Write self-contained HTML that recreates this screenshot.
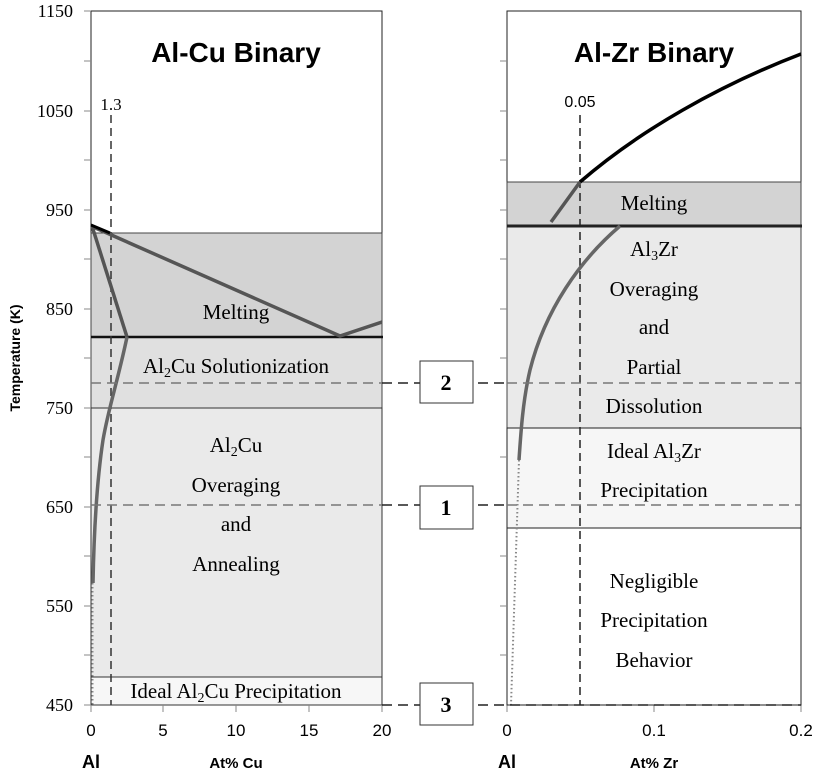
<!DOCTYPE html>
<html><head><style>
body{margin:0;background:#fff;}
svg text{font-family:"Liberation Serif",serif;}
.s{font-family:"Liberation Sans",sans-serif;}
</style></head><body>
<svg width="817" height="773" viewBox="0 0 817 773" xmlns="http://www.w3.org/2000/svg">
<rect x="91" y="11" width="291" height="694" fill="#fff" stroke="#222" stroke-width="1"/>
<rect x="91" y="233" width="291" height="104" fill="#d3d3d3" stroke="#444"/>
<rect x="91" y="337" width="291" height="71" fill="#e0e0e0" stroke="#444"/>
<rect x="91" y="408" width="291" height="269" fill="#eaeaea" stroke="#333"/>
<rect x="91" y="677" width="291" height="28" fill="#f7f7f7" stroke="#333"/>
<line x1="91" y1="337" x2="383" y2="337" stroke="#111" stroke-width="2.5"/>
<g stroke="#888" stroke-width="1">
<line x1="84" y1="11" x2="91" y2="11"/><line x1="84" y1="61" x2="91" y2="61"/><line x1="84" y1="111" x2="91" y2="111"/><line x1="84" y1="160" x2="91" y2="160"/><line x1="84" y1="210" x2="91" y2="210"/><line x1="84" y1="259" x2="91" y2="259"/><line x1="84" y1="309" x2="91" y2="309"/><line x1="84" y1="358" x2="91" y2="358"/><line x1="84" y1="408" x2="91" y2="408"/><line x1="84" y1="457" x2="91" y2="457"/><line x1="84" y1="507" x2="91" y2="507"/><line x1="84" y1="556" x2="91" y2="556"/><line x1="84" y1="606" x2="91" y2="606"/><line x1="84" y1="655" x2="91" y2="655"/><line x1="84" y1="705" x2="91" y2="705"/>
<line x1="91" y1="705" x2="91" y2="712"/><line x1="163" y1="705" x2="163" y2="712"/><line x1="236" y1="705" x2="236" y2="712"/><line x1="309" y1="705" x2="309" y2="712"/><line x1="382" y1="705" x2="382" y2="712"/>
<line x1="507" y1="705" x2="507" y2="712"/><line x1="654" y1="705" x2="654" y2="712"/><line x1="801" y1="705" x2="801" y2="712"/>
</g>
<g font-size="18" text-anchor="end">
<text x="73" y="17">1150</text><text x="73" y="117">1050</text><text x="73" y="216">950</text><text x="73" y="315">850</text><text x="73" y="414">750</text><text x="73" y="513">650</text><text x="73" y="612">550</text><text x="73" y="711">450</text>
</g>
<text class="s" x="20" y="358" font-size="14" font-weight="bold" transform="rotate(-90 20 358)" text-anchor="middle">Temperature (K)</text>
<g class="s" font-size="17" text-anchor="middle">
<text class="s" x="91" y="736">0</text><text class="s" x="163" y="736">5</text><text class="s" x="236" y="736">10</text><text class="s" x="309" y="736">15</text><text class="s" x="382" y="736">20</text>
</g>
<text class="s" x="91" y="768" font-size="18" font-weight="bold" text-anchor="middle">Al</text>
<text class="s" x="236" y="768" font-size="15" font-weight="bold" text-anchor="middle">At% Cu</text>
<text class="s" x="236" y="62" font-size="28" font-weight="bold" text-anchor="middle">Al-Cu Binary</text>
<text x="111" y="110" font-size="17" text-anchor="middle">1.3</text>
<line x1="111" y1="115" x2="111" y2="705" stroke="#333" stroke-width="1.5" stroke-dasharray="8,5"/>
<polyline points="91,226 340,336 382,322" fill="none" stroke="#555" stroke-width="3.5"/>
<polyline points="92,226 127,337" fill="none" stroke="#555" stroke-width="3.5"/>
<path d="M127,337 C118,380 108,410 103,440 C97,480 94,530 93,583" fill="none" stroke="#666" stroke-width="3.5"/>
<line x1="92.5" y1="583" x2="92.5" y2="705" stroke="#888" stroke-width="2" stroke-dasharray="1.5,2.5"/>
<polyline points="91,225 110,233" fill="none" stroke="#000" stroke-width="3"/>
<g font-size="21" text-anchor="middle">
<text x="236" y="319">Melting</text>
<text x="236" y="373">Al<tspan font-size="14" dy="4">2</tspan><tspan dy="-4">Cu Solutionization</tspan></text>
<text x="236" y="452">Al<tspan font-size="14" dy="4">2</tspan><tspan dy="-4">Cu</tspan></text>
<text x="236" y="492">Overaging</text>
<text x="236" y="531">and</text>
<text x="236" y="571">Annealing</text>
<text x="236" y="698">Ideal Al<tspan font-size="14" dy="4">2</tspan><tspan dy="-4">Cu Precipitation</tspan></text>
</g>
<rect x="507" y="11" width="294" height="694" fill="#fff" stroke="#222"/>
<rect x="507" y="182" width="294" height="44" fill="#d3d3d3" stroke="#444"/>
<rect x="507" y="226" width="294" height="202" fill="#eaeaea" stroke="#444"/>
<rect x="507" y="428" width="294" height="100" fill="#f6f6f6" stroke="#222"/>
<line x1="507" y1="226" x2="802" y2="226" stroke="#222" stroke-width="3"/>
<g stroke="#888"><line x1="500" y1="61" x2="507" y2="61"/><line x1="500" y1="111" x2="507" y2="111"/><line x1="500" y1="160" x2="507" y2="160"/><line x1="500" y1="210" x2="507" y2="210"/><line x1="500" y1="259" x2="507" y2="259"/><line x1="500" y1="309" x2="507" y2="309"/><line x1="500" y1="358" x2="507" y2="358"/><line x1="500" y1="457" x2="507" y2="457"/><line x1="500" y1="556" x2="507" y2="556"/><line x1="500" y1="606" x2="507" y2="606"/><line x1="500" y1="655" x2="507" y2="655"/></g>
<g font-size="17" text-anchor="middle">
<text class="s" x="507" y="736">0</text><text class="s" x="654" y="736">0.1</text><text class="s" x="801" y="736">0.2</text>
</g>
<text class="s" x="507" y="768" font-size="18" font-weight="bold" text-anchor="middle">Al</text>
<text class="s" x="654" y="768" font-size="15" font-weight="bold" text-anchor="middle">At% Zr</text>
<text class="s" x="654" y="62" font-size="28" font-weight="bold" text-anchor="middle">Al-Zr Binary</text>
<text class="s" x="580" y="107" font-size="16" text-anchor="middle">0.05</text>
<line x1="580" y1="115" x2="580" y2="705" stroke="#222" stroke-width="1.5" stroke-dasharray="8,5"/>
<path d="M580,182 C640,130 720,85 801,54" fill="none" stroke="#000" stroke-width="3.5"/>
<path d="M551,222 L580,182" fill="none" stroke="#555" stroke-width="3.5"/>
<path d="M620,226 C580,260 545,310 530,370 C523,400 521,430 519,460" fill="none" stroke="#666" stroke-width="3.5"/>
<line x1="519" y1="460" x2="511" y2="705" stroke="#888" stroke-width="2" stroke-dasharray="1.5,2.5"/>
<g font-size="21" text-anchor="middle">
<text x="654" y="210">Melting</text>
<text x="654" y="256">Al<tspan font-size="14" dy="4">3</tspan><tspan dy="-4">Zr</tspan></text>
<text x="654" y="296">Overaging</text>
<text x="654" y="334">and</text>
<text x="654" y="374">Partial</text>
<text x="654" y="413">Dissolution</text>
<text x="654" y="458">Ideal Al<tspan font-size="14" dy="4">3</tspan><tspan dy="-4">Zr</tspan></text>
<text x="654" y="497">Precipitation</text>
<text x="654" y="588">Negligible</text>
<text x="654" y="627">Precipitation</text>
<text x="654" y="667">Behavior</text>
</g>
<g stroke-width="1.5" stroke-dasharray="10,6">
<line x1="91" y1="383" x2="382" y2="383" stroke="#777"/>
<line x1="382" y1="383" x2="507" y2="383" stroke="#222"/>
<line x1="507" y1="383" x2="801" y2="383" stroke="#777"/>
<line x1="91" y1="505" x2="382" y2="505" stroke="#777"/>
<line x1="382" y1="505" x2="507" y2="505" stroke="#222"/>
<line x1="507" y1="505" x2="801" y2="505" stroke="#777"/>
<line x1="382" y1="705" x2="801" y2="705" stroke="#222"/>
</g>
<g fill="#fff" stroke="#333" stroke-width="1">
<rect x="420" y="361" width="53" height="42"/>
<rect x="420" y="486" width="53" height="43"/>
<rect x="420" y="683" width="53" height="42"/>
</g>
<g font-size="22" font-weight="bold" text-anchor="middle">
<text x="446" y="390">2</text><text x="446" y="515">1</text><text x="446" y="712">3</text>
</g>
</svg>
</body></html>
